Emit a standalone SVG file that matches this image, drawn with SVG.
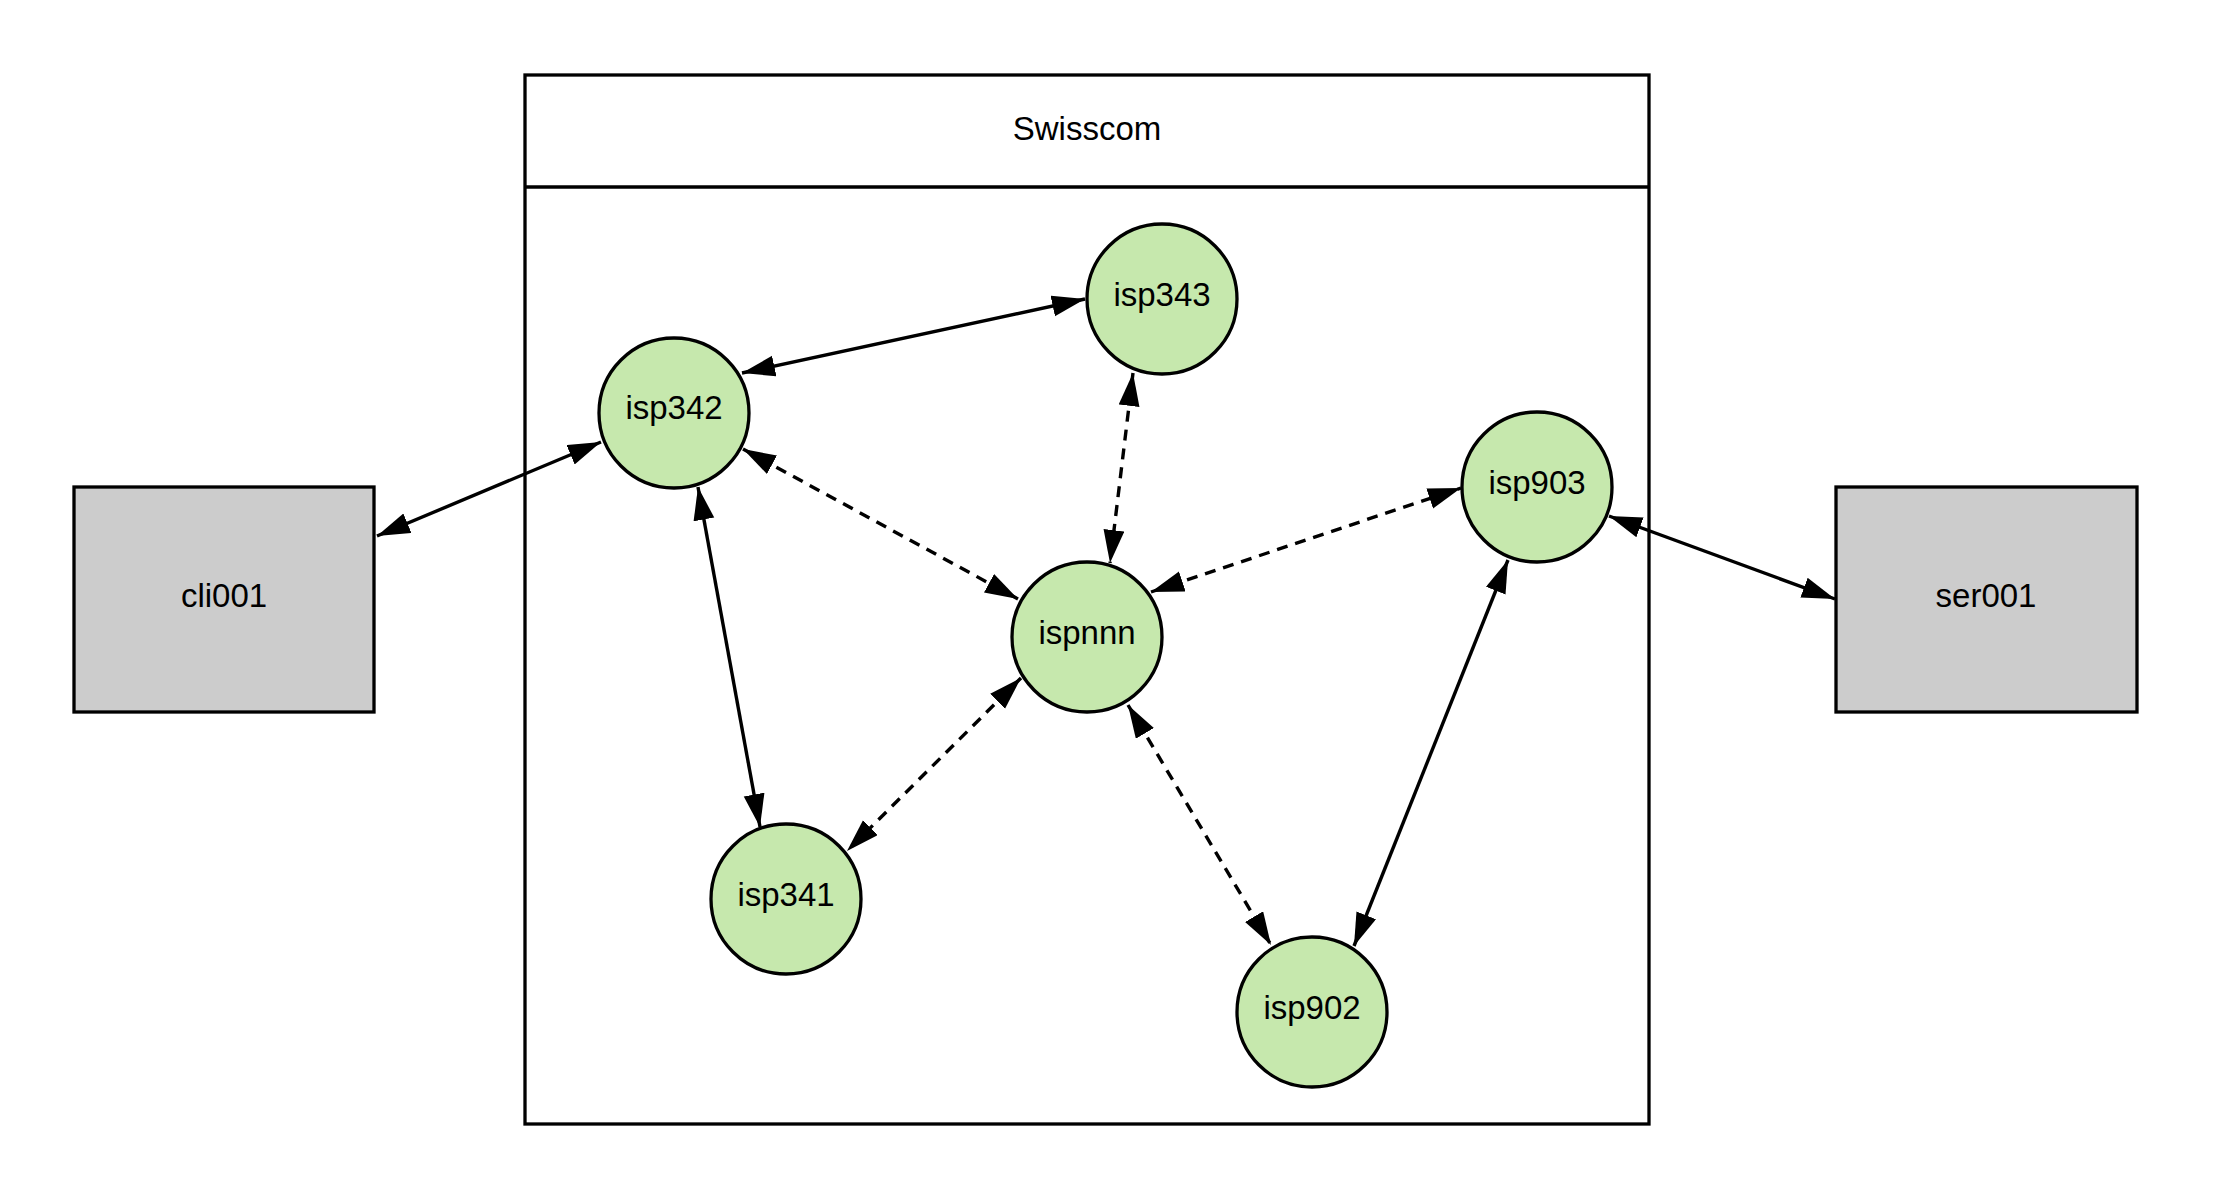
<svg xmlns="http://www.w3.org/2000/svg" width="2213" height="1200" viewBox="0 0 2213 1200">
<style>
text{font-family:"Liberation Sans",Arial,sans-serif;font-size:33px;fill:#000;text-anchor:middle}
.isp{fill:#c6e8ad;stroke:#000;stroke-width:3.3}
.ext{fill:#cccccc;stroke:#000;stroke-width:3.3}
.edge{stroke:#000;stroke-width:3.4;fill:none;marker-start:url(#ah);marker-end:url(#ah)}
.dash{stroke-dasharray:11 8}
</style>
<defs>
<marker id="ah" markerUnits="userSpaceOnUse" markerWidth="34" markerHeight="22" refX="33" refY="10.5" orient="auto-start-reverse" viewBox="0 0 34 22">
<path d="M0,0 L33,10.5 L0,21 z" fill="#000"/>
</marker>
</defs>
<rect width="2213" height="1200" fill="#fff"/>
<g id="swisscom">
<rect x="525" y="75" width="1124" height="1049" fill="#fff" stroke="#000" stroke-width="3.3"/>
<line x1="525" y1="187" x2="1649" y2="187" stroke="#000" stroke-width="3.3"/>
<text x="1087" y="140">Swisscom</text>
</g>
<g id="cli001"><rect class="ext" x="74" y="487" width="300" height="225"/><text x="224" y="607">cli001</text></g>
<g id="ser001"><rect class="ext" x="1836" y="487" width="301" height="225"/><text x="1986" y="607">ser001</text></g>
<g id="isp342"><circle class="isp" cx="674" cy="413" r="75"/><text x="674" y="419">isp342</text></g>
<g id="isp343"><circle class="isp" cx="1162" cy="299" r="75"/><text x="1162" y="306">isp343</text></g>
<g id="isp903"><circle class="isp" cx="1537" cy="487" r="75"/><text x="1537" y="494">isp903</text></g>
<g id="ispnnn"><circle class="isp" cx="1087" cy="637" r="75"/><text x="1087" y="644">ispnnn</text></g>
<g id="isp341"><circle class="isp" cx="786" cy="899" r="75"/><text x="786" y="906">isp341</text></g>
<g id="isp902"><circle class="isp" cx="1312" cy="1012" r="75"/><text x="1312" y="1019">isp902</text></g>
<g id="connectors">
<line class="edge" x1="377" y1="536" x2="601" y2="442"/>
<line class="edge" x1="742" y1="373" x2="1085" y2="299"/>
<line class="edge dash" x1="743" y1="449" x2="1018" y2="599"/>
<line class="edge" x1="698" y1="487" x2="760" y2="827"/>
<line class="edge dash" x1="1133" y1="373" x2="1110" y2="563"/>
<line class="edge dash" x1="1151" y1="592" x2="1461" y2="488"/>
<line class="edge" x1="1609" y1="516" x2="1835" y2="599"/>
<line class="edge" x1="1508" y1="560" x2="1354" y2="946"/>
<line class="edge dash" x1="1021" y1="678" x2="847" y2="851"/>
<line class="edge dash" x1="1128" y1="705" x2="1271" y2="945"/>
</g>
</svg>
